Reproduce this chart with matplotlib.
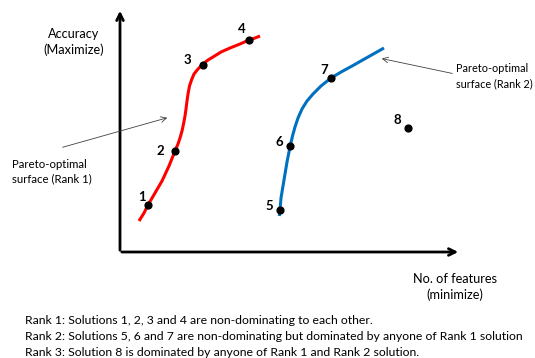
import matplotlib.pyplot as plt

plt.rcParams['font.family'] = ['Lato', 'DejaVu Sans']

# Rank 1 front (red)
rank1_x = [139, 144, 148, 155, 162, 169, 175, 178, 180, 182, 183.5, 185, 186, 187, 188, 189.5,
           191.5, 194, 198, 203, 208, 213, 221, 230, 240, 249, 255, 260]
rank1_y = [221, 213, 205, 193, 181, 166, 151, 144, 138, 131, 124, 116, 109, 101, 94, 86,
           80, 74, 69, 64, 60, 57, 52, 48, 44, 40, 38, 36]
# Rank 2 front (blue)
rank2_x = [279.3, 280, 281, 283, 285, 287, 290, 292.5, 295, 298, 302, 307, 313, 321, 331, 342, 353, 368, 384]
rank2_y = [216, 210, 198, 186, 174, 162, 147, 136, 127, 118, 109, 101, 94, 86, 78, 71.5, 65.5, 57, 48]

# solutions
sol_labels = ['1', '2', '3', '4', '5', '6', '7', '8']
sol_x = [148, 175, 203, 249, 280, 290, 331, 408]
sol_y = [205, 151, 65, 40, 210, 146, 78, 128]
lab_dx = [-6, -15, -16, -7, -11, -11, -7, -11]
lab_dy = [-8, 0, -5, -11, -4, -4, -8, -8]

notes = [
    'Rank 1: Solutions 1, 2, 3 and 4 are non-dominating to each other.',
    'Rank 2: Solutions 5, 6 and 7 are non-dominating but dominated by anyone of Rank 1 solution',
    'Rank 3: Solution 8 is dominated by anyone of Rank 1 and Rank 2 solution.',
]

fig = plt.figure(figsize=(5.35, 3.58), dpi=100)
ax = fig.add_axes([0, 0, 1, 1])
ax.set_xlim(0, 535)
ax.set_ylim(358, 0)
ax.axis('off')

# axes arrows
ax.annotate('', xy=(120, 8), xytext=(120, 253),
            arrowprops=dict(arrowstyle='->', lw=2, color='black', mutation_scale=12))
ax.annotate('', xy=(461, 252), xytext=(119, 252),
            arrowprops=dict(arrowstyle='->', lw=2, color='black', mutation_scale=12))

ax.plot(rank1_x, rank1_y, color='#ff0000', lw=2.2, solid_capstyle='butt', solid_joinstyle='round')
ax.plot(rank2_x, rank2_y, color='#0070c0', lw=2.2, solid_capstyle='butt', solid_joinstyle='round')
ax.scatter(sol_x, sol_y, s=24, color='black', zorder=3)
for lab, x, y, dx, dy in zip(sol_labels, sol_x, sol_y, lab_dx, lab_dy):
    ax.text(x + dx, y + dy, lab, fontsize=9.5, fontweight='bold', ha='center', va='center')

ax.text(74, 42, 'Accuracy\n(Maximize)', fontsize=9.2, ha='center', va='center', linespacing=1.25)
ax.text(455, 287, 'No. of features\n(minimize)', fontsize=9.2, ha='center', va='center', linespacing=1.25)

ax.annotate('', xy=(170, 117), xytext=(60, 148),
            arrowprops=dict(arrowstyle='->', lw=0.6, color='#404040'))
ax.text(12, 172, 'Pareto-optimal\nsurface (Rank 1)', fontsize=8.2, ha='left', va='center', linespacing=1.35)
ax.annotate('', xy=(379, 58), xytext=(455, 74),
            arrowprops=dict(arrowstyle='->', lw=0.6, color='#404040'))
ax.text(456, 76, 'Pareto-optimal\nsurface (Rank 2)', fontsize=7.8, ha='left', va='center', linespacing=1.4)

for i, line in enumerate(notes):
    ax.text(25, 320 + 16 * i, line, fontsize=8.8, ha='left', va='center')

fig.savefig('out.png', dpi=100)
